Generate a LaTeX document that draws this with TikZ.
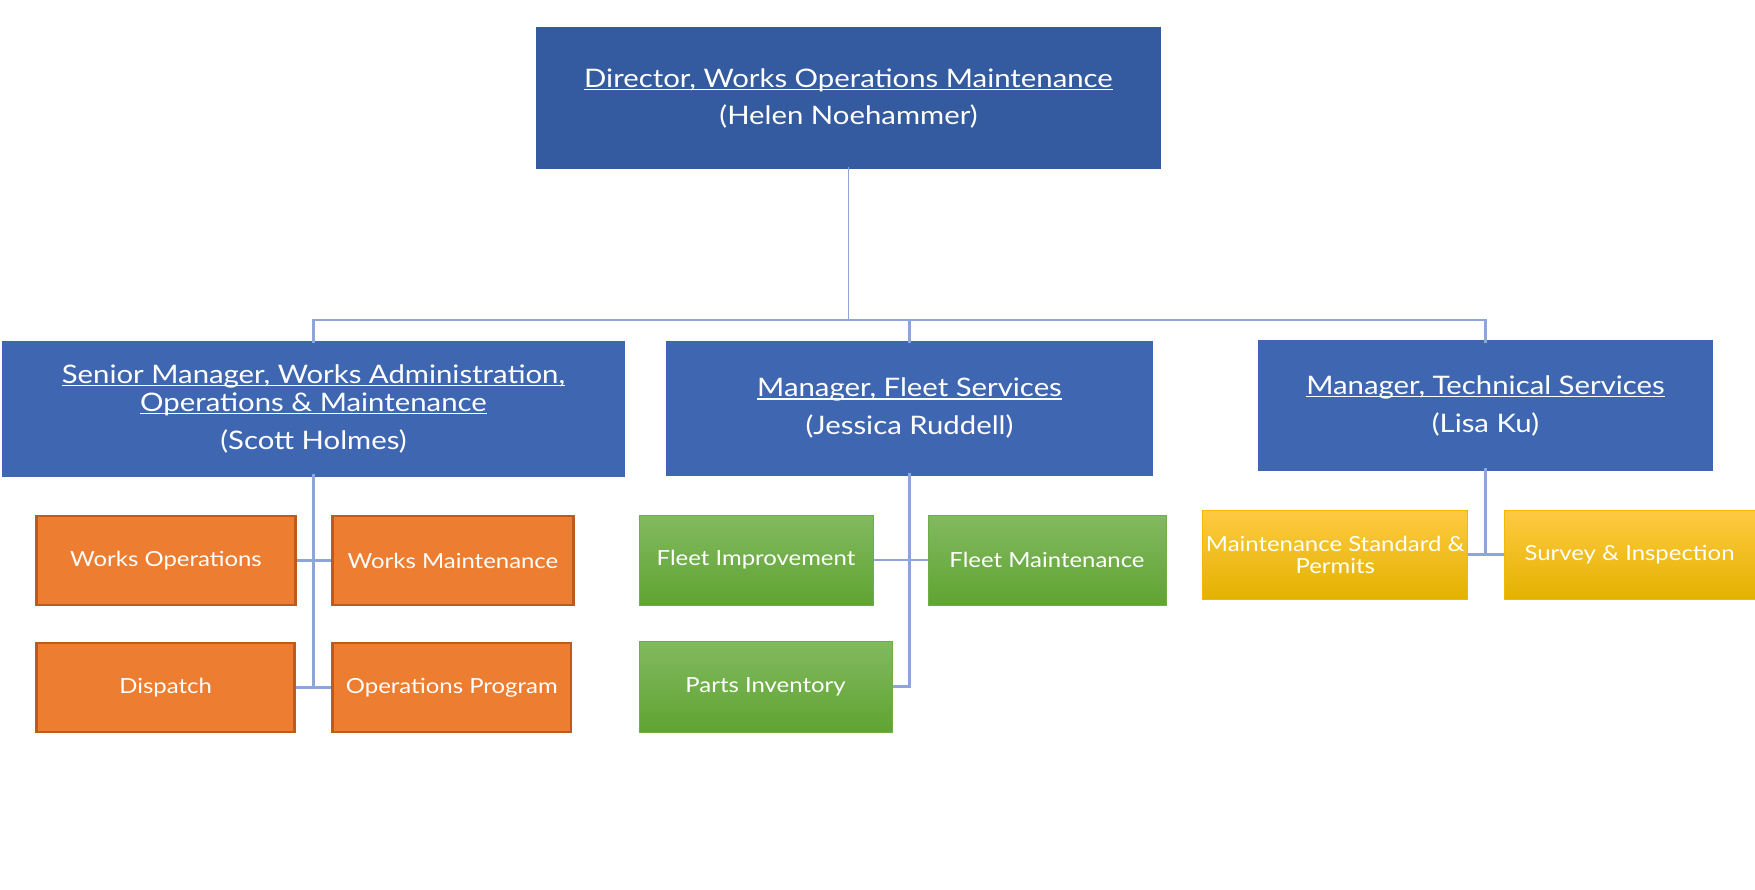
\documentclass[tikz,border=0pt]{standalone}
\usepackage{fontspec}
\setmainfont{Lato}[FakeStretch=1.15]
\definecolor{dirblue}{HTML}{345A9F}
\definecolor{mgrblue}{HTML}{3F67B1}
\definecolor{linkc}{HTML}{8EA5DA}
\definecolor{orfill}{HTML}{ED7D31}
\definecolor{ordraw}{HTML}{C05A1C}
\definecolor{grtop}{HTML}{82BA60}
\definecolor{grbot}{HTML}{60A332}
\definecolor{grdraw}{HTML}{6DAE45}
\definecolor{yetop}{HTML}{FFCA42}
\definecolor{yemid}{HTML}{FFC000}
\definecolor{yebot}{HTML}{E3B200}
\definecolor{yedraw}{HTML}{F2BA00}
\newcommand\myul[1]{\leavevmode\setbox0\hbox{#1}\rlap{\rule[-3pt]{\wd0}{1.3pt}}\box0}
\tikzset{
  base/.style={rectangle, inner sep=0pt, text=white, align=center},
  head/.style={base, font=\fontsize{25.5pt}{30pt}\selectfont},
  dirbox/.style={head, fill=dirblue, minimum width=625pt, minimum height=142pt},
  mgrbox/.style={head, fill=mgrblue},
  sub/.style={base, font=\fontsize{20.8pt}{22pt}\selectfont, minimum height=89pt},
  orbox/.style={sub, fill=orfill, draw=ordraw, line width=2.5pt},
  grbox/.style={sub, top color=grtop, bottom color=grbot, draw=grdraw, line width=1pt},
  yebox/.style={sub, top color=yetop, middle color=yemid, bottom color=yebot, draw=yedraw, line width=1pt},
  conn/.style={draw=linkc, line width=2.2pt},
}
\begin{document}
\begin{tikzpicture}[x=1pt,y=-1pt]
\useasboundingbox (0,0) rectangle (1755,889);
\node[dirbox] (dir) at (848.5,98) {\myul{Director, Works Operations Maintenance}\\[7pt](Helen Noehammer)};
\node[mgrbox, minimum width=623pt, minimum height=136pt] (sen) at (313.5,408.5)
  {\myul{Senior Manager, Works Administration,}\\[-2pt]\myul{Operations \& Maintenance}\\[8pt](Scott Holmes)};
\node[mgrbox, minimum width=487pt, minimum height=135pt] (fleet) at (909.5,408)
  {\myul{Manager, Fleet Services}\\[8pt](Jessica Ruddell)};
\node[mgrbox, minimum width=455pt, minimum height=131pt] (tech) at (1485.5,405.5)
  {\myul{Manager, Technical Services}\\[8pt](Lisa Ku)};
% orange
\node[orbox, minimum width=259pt] (wo) at (166,560.5) {Works Operations};
\node[orbox, minimum width=241pt] (wm) at (453,560.5) {Works Maintenance};
\node[orbox, minimum width=258pt] (dsp) at (165.6,687.5) {Dispatch};
\node[orbox, minimum width=238.5pt] (op) at (451.8,687.5) {Operations Program};
% green
\node[grbox, minimum width=234pt, minimum height=90pt] (fi) at (756,560) {Fleet Improvement};
\node[grbox, minimum width=238pt, minimum height=90pt] (fm) at (1047,560) {Fleet Maintenance};
\node[grbox, minimum width=253pt, minimum height=91pt] (pi) at (765.5,686.5) {Parts Inventory};
% yellow
\node[yebox, minimum width=264.5pt] (ms) at (1335.2,554.5) {Maintenance Standard \&\\Permits};
\node[yebox, minimum width=251pt] (sv) at (1629.5,554.5) {Survey \& Inspection};
% connectors
\coordinate (bus) at (848.5,320);
\draw[conn, line width=1.8pt] ([yshift=2pt]dir.south) -- (bus);
\draw[conn] ([yshift=-3pt]sen.north) -- (sen.north |- bus) -| ([yshift=-3pt]tech.north);
\draw[conn] ([yshift=-3pt]fleet.north) -- (fleet.north |- bus);
\draw[conn] ([yshift=3pt]sen.south) -- (sen.south |- dsp.east);
\draw[conn] (wo.east) -- (wm.west);
\draw[conn] (dsp.east) -- (op.west);
\draw[conn] ([yshift=3pt]fleet.south) |- (pi.east);
\draw[conn] (fi.east) -- (fm.west);
\draw[conn] ([yshift=3pt]tech.south) -- (tech.south |- ms.east);
\draw[conn] (ms.east) -- (sv.west);
\end{tikzpicture}
\end{document}
